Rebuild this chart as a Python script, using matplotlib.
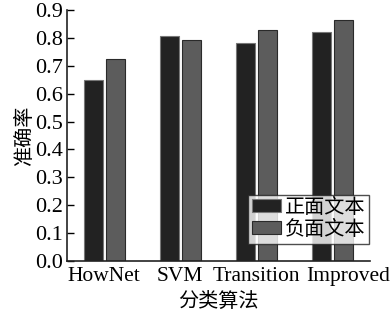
import numpy as np
import matplotlib.pyplot as plt
from matplotlib.transforms import ScaledTranslation

plt.rcParams['font.family'] = ['Liberation Serif', 'Noto Sans CJK SC']

# --- data ---
methods = ['HowNet', 'SVM', 'Transition', 'Improved']
positive = [0.650, 0.805, 0.782, 0.821]
negative = [0.725, 0.793, 0.827, 0.864]
series_labels = ['正面文本', '负面文本']

fig = plt.figure(figsize=(3.91, 3.20), dpi=100)
ax = fig.add_axes([67 / 391, 1 - 261 / 320, (370 - 67) / 391, (261 - 10) / 320])

x = np.arange(len(methods))
w = 0.25
off = 0.145
ax.bar(x - off, positive, w, color='#222222', edgecolor='#777777', linewidth=0.8,
       label=series_labels[0])
ax.bar(x + off, negative, w, color='#5c5c5c', edgecolor='#2a2a2a', linewidth=0.8,
       label=series_labels[1])

ax.set_xlim(-0.49, 3.5)
ax.set_ylim(0, 0.9)
ax.set_yticks(np.arange(0, 0.91, 0.1))
ax.set_yticklabels([f'{v:.1f}' for v in np.arange(0, 0.91, 0.1)])
ax.set_xticks(x)
ax.set_xticklabels(methods)

for s in ['top', 'right']:
    ax.spines[s].set_visible(False)
for s in ['left', 'bottom']:
    ax.spines[s].set_linewidth(1.2)
    ax.spines[s].set_color('#222222')

ax.tick_params(axis='y', direction='in', length=5, width=1.0, labelsize=16, pad=3)
ax.tick_params(axis='x', length=0, labelsize=15.5, pad=4)

# last label sits a bit to the right, as in the original
lbl = ax.get_xticklabels()[-1]
lbl.set_transform(lbl.get_transform() + ScaledTranslation(0.16, 0, fig.dpi_scale_trans))

ax.set_ylabel('准确率', fontsize=14.5, labelpad=0)
ax.set_xlabel('分类算法', fontsize=14.5, labelpad=5)

leg = ax.legend(loc='lower right', bbox_to_anchor=(0.997, 0.068), fontsize=14.5,
                frameon=True, fancybox=False, edgecolor='#222222',
                handlelength=1.4, handleheight=0.6, handletextpad=0.2,
                borderpad=0.2, labelspacing=0.15, borderaxespad=0.0)
leg.get_frame().set_linewidth(1.0)

fig.savefig('out.png', dpi=100)
